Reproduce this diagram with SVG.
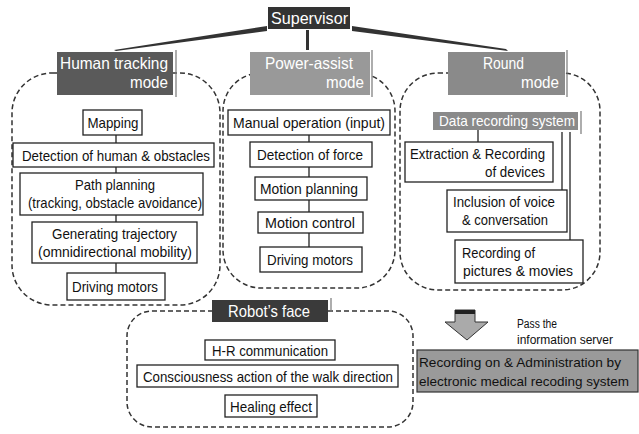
<svg xmlns="http://www.w3.org/2000/svg" width="639" height="434" viewBox="0 0 639 434">
<style>
text{font-family:"Liberation Sans",Arial,sans-serif;font-size:15px;fill:#111}
.box{fill:#fff;stroke:#222;stroke-width:1.3}
.region{fill:none;stroke:#333;stroke-width:1.5;stroke-dasharray:5 3}
.mode{font-size:16.5px;fill:#fff}
.wt{fill:#fff}
.c{text-anchor:middle}
.e{text-anchor:end}
.conn{stroke:#222;stroke-width:1.3;fill:none}
.sep{stroke:#777;stroke-width:1.2}
</style>
<rect width="639" height="434" fill="#fff"/>

<g id="regions">
<rect class="region" x="12" y="73" width="208" height="232" rx="40"/>
<rect class="region" x="223" y="73" width="172" height="215" rx="38"/>
<rect class="region" x="400" y="73" width="200" height="217" rx="38"/>
<rect class="region" x="127" y="311" width="286" height="116" rx="25"/>
</g>

<g id="connectors">
<polygon points="267,26 267,31 116,51 114,50" fill="#333"/>
<polygon points="352,26 352,31 508,51 506,49" fill="#333"/>
<rect x="306" y="30" width="3" height="20" fill="#333"/>
<line class="conn" x1="116" y1="135" x2="116" y2="143"/>
<line class="conn" x1="116" y1="167" x2="116" y2="173"/>
<line class="conn" x1="116" y1="215" x2="116" y2="222"/>
<line class="conn" x1="116" y1="263" x2="116" y2="273"/>
<line class="conn" x1="309" y1="135" x2="309" y2="142"/>
<line class="conn" x1="309" y1="167" x2="309" y2="177"/>
<line class="conn" x1="309" y1="200" x2="309" y2="212"/>
<line class="conn" x1="309" y1="233" x2="309" y2="247"/>
<line class="conn" x1="478" y1="130" x2="478" y2="142"/>
<line class="conn" x1="562" y1="132" x2="562" y2="190"/>
<line class="conn" x1="570" y1="132" x2="570" y2="240"/>
</g>

<g id="supervisor">
<rect x="268" y="7" width="82" height="22" fill="#333"/>
<text class="mode c" x="309.5" y="24" textLength="77" lengthAdjust="spacingAndGlyphs">Supervisor</text>
</g>

<g id="human-tracking-mode">
<rect x="57" y="52" width="116" height="43" fill="#5a5a5a"/>
<line class="sep" x1="176" y1="50" x2="176" y2="97"/>
<text class="mode" x="60" y="69" textLength="108" lengthAdjust="spacingAndGlyphs">Human tracking</text>
<text class="mode e" x="168" y="88" textLength="38" lengthAdjust="spacingAndGlyphs">mode</text>
</g>
<g id="power-assist-mode">
<rect x="250" y="52" width="120" height="43" fill="#999"/>
<line class="sep" x1="372" y1="50" x2="372" y2="97"/>
<text class="mode" x="265" y="69" textLength="88" lengthAdjust="spacingAndGlyphs">Power-assist</text>
<text class="mode e" x="364" y="88" textLength="38" lengthAdjust="spacingAndGlyphs">mode</text>
</g>
<g id="round-mode">
<rect x="448" y="52" width="117" height="43" fill="#8a8a8a"/>
<line class="sep" x1="567" y1="50" x2="567" y2="97"/>
<text class="mode" x="483" y="69" textLength="41" lengthAdjust="spacingAndGlyphs">Round</text>
<text class="mode e" x="559" y="88" textLength="38" lengthAdjust="spacingAndGlyphs">mode</text>
</g>

<g id="mapping"><rect class="box" x="83" y="110" width="59" height="25"/><text class="c" x="113" y="128" textLength="51" lengthAdjust="spacingAndGlyphs">Mapping</text></g>
<g id="detection-human"><rect class="box" x="13" y="143" width="201" height="24"/><text class="c" x="116" y="160.5" textLength="188" lengthAdjust="spacingAndGlyphs">Detection of human &amp; obstacles</text></g>
<g id="path-planning"><rect class="box" x="20" y="173" width="183" height="42"/><text class="c" x="115" y="190" textLength="80" lengthAdjust="spacingAndGlyphs">Path planning</text><text class="c" x="115" y="208" textLength="174" lengthAdjust="spacingAndGlyphs">(tracking, obstacle avoidance)</text></g>
<g id="generating-trajectory"><rect class="box" x="32" y="222" width="165" height="41"/><text class="c" x="114.5" y="239" textLength="125" lengthAdjust="spacingAndGlyphs">Generating trajectory</text><text class="c" x="115" y="257" textLength="154" lengthAdjust="spacingAndGlyphs">(omnidirectional mobility)</text></g>
<g id="driving-motors-1"><rect class="box" x="67" y="273" width="98" height="27" stroke-width="1.8"/><text class="c" x="115" y="292" textLength="86" lengthAdjust="spacingAndGlyphs">Driving motors</text></g>

<g id="manual-operation"><rect class="box" x="228" y="110" width="162" height="25"/><text class="c" x="309" y="128" textLength="152" lengthAdjust="spacingAndGlyphs">Manual operation (input)</text></g>
<g id="detection-force"><rect class="box" x="250" y="142" width="122" height="25"/><text class="c" x="310" y="160" textLength="106" lengthAdjust="spacingAndGlyphs">Detection of force</text></g>
<g id="motion-planning"><rect class="box" x="255" y="177" width="112" height="23"/><text class="c" x="309" y="194" textLength="98" lengthAdjust="spacingAndGlyphs">Motion planning</text></g>
<g id="motion-control"><rect class="box" x="258" y="212" width="105" height="21"/><text class="c" x="310" y="228" textLength="90" lengthAdjust="spacingAndGlyphs">Motion control</text></g>
<g id="driving-motors-2"><rect class="box" x="260" y="247" width="102" height="25" stroke-width="1.8"/><text class="c" x="310" y="265" textLength="86" lengthAdjust="spacingAndGlyphs">Driving motors</text></g>

<g id="data-recording-system"><rect x="433" y="112" width="145" height="18" fill="#8a8a8a"/><line class="sep" x1="581" y1="111" x2="581" y2="134"/><text class="wt c" x="507" y="126" textLength="136" lengthAdjust="spacingAndGlyphs">Data recording system</text></g>
<g id="extraction"><rect class="box" x="405" y="142" width="148" height="40"/><text x="410" y="159" textLength="135" lengthAdjust="spacingAndGlyphs">Extraction &amp; Recording</text><text class="e" x="545" y="177" textLength="60" lengthAdjust="spacingAndGlyphs">of devices</text></g>
<g id="inclusion"><rect class="box" x="447" y="190" width="120" height="42"/><text x="453" y="207" textLength="102" lengthAdjust="spacingAndGlyphs">Inclusion of voice</text><text x="462" y="225" textLength="86" lengthAdjust="spacingAndGlyphs">&amp; conversation</text></g>
<g id="recording-pictures"><rect class="box" x="455" y="240" width="128" height="43" stroke-width="1.6"/><text x="462" y="258" textLength="73" lengthAdjust="spacingAndGlyphs">Recording of</text><text x="463" y="276" textLength="110" lengthAdjust="spacingAndGlyphs">pictures &amp; movies</text></g>

<g id="robots-face"><rect x="212" y="300" width="116" height="22" fill="#3a3a3a"/><line class="sep" x1="331" y1="298" x2="331" y2="312"/><text class="mode" x="228" y="317" textLength="82" lengthAdjust="spacingAndGlyphs">Robot’s face</text></g>
<g id="hr-communication"><rect class="box" x="205" y="340" width="130" height="20"/><text class="c" x="270" y="355.5" textLength="116" lengthAdjust="spacingAndGlyphs">H-R communication</text></g>
<g id="consciousness"><rect class="box" x="137" y="365" width="261" height="22"/><text class="c" x="268" y="381.5" textLength="250" lengthAdjust="spacingAndGlyphs">Consciousness action of the walk direction</text></g>
<g id="healing"><rect class="box" x="225" y="395" width="92" height="22"/><text class="c" x="271" y="411.5" textLength="82" lengthAdjust="spacingAndGlyphs">Healing effect</text></g>

<g id="arrow">
<polygon points="455,310 475,310 475,322 488,322 467,340 445,322 455,322" fill="#aaa" stroke="#333" stroke-width="1"/>
<rect x="455" y="310" width="20" height="4" fill="#222"/>
<text x="517" y="328" style="font-size:12.5px" textLength="40" lengthAdjust="spacingAndGlyphs">Pass the</text>
<text x="517" y="344" style="font-size:12.5px" textLength="96" lengthAdjust="spacingAndGlyphs">information server</text>
</g>

<g id="emr">
<rect x="417" y="350" width="221" height="42" fill="#9a9a9a" stroke="#333" stroke-width="1.2"/>
<text x="419" y="367" style="font-size:13.5px" textLength="202" lengthAdjust="spacingAndGlyphs">Recording on &amp; Administration by</text>
<text x="419" y="386" style="font-size:13.5px" textLength="210" lengthAdjust="spacingAndGlyphs">electronic medical recoding system</text>
</g>
</svg>
